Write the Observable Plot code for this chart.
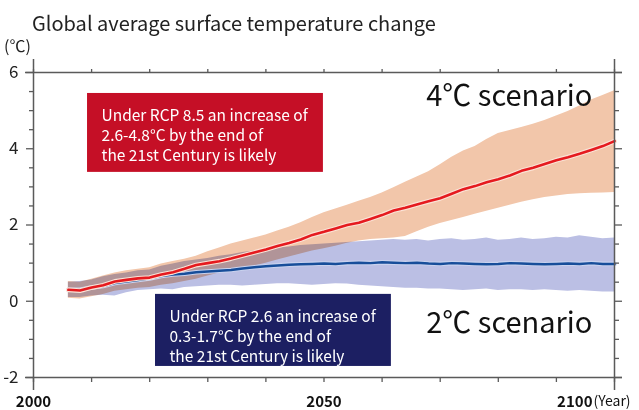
<!DOCTYPE html>
<html>
<head>
<meta charset="utf-8">
<script src="https://cdn.jsdelivr.net/npm/d3@7"></script>
<script src="https://cdn.jsdelivr.net/npm/@observablehq/plot@0.6"></script>
<style>
  body { margin: 0; background: #fff; font-family: "Noto Sans CJK JP", "Open Sans", sans-serif; }
  #title { height: 36px; padding-left: 32px; font-size: 20px; line-height: 46px; color: #222; white-space: nowrap; }
  #chart svg { display: block; overflow: visible; }
</style>
</head>
<body>
<div id="title">Global average surface temperature change</div>
<div id="chart"></div>
<script>
// Projection years (two-year steps)
const years = [2006, 2008, 2010, 2012, 2014, 2016, 2018, 2020, 2022, 2024, 2026, 2028,
  2030, 2032, 2034, 2036, 2038, 2040, 2042, 2044, 2046, 2048, 2050, 2052,
  2054, 2056, 2058, 2060, 2062, 2064, 2066, 2068, 2070, 2072, 2074, 2076,
  2078, 2080, 2082, 2084, 2086, 2088, 2090, 2092, 2094, 2096, 2098, 2100];

// RCP 8.5 (4℃ scenario): multi-model mean and likely range, ℃
const rcp85Mean = [0.30, 0.28, 0.36, 0.42, 0.52, 0.56, 0.60, 0.62, 0.70, 0.76, 0.85, 0.95,
  1.00, 1.05, 1.12, 1.20, 1.28, 1.36, 1.45, 1.53, 1.62, 1.74, 1.82, 1.91,
  2.00, 2.06, 2.16, 2.26, 2.38, 2.45, 2.54, 2.62, 2.70, 2.82, 2.94, 3.02,
  3.12, 3.20, 3.30, 3.42, 3.50, 3.60, 3.70, 3.78, 3.87, 3.97, 4.07, 4.20];
const rcp85High = [0.52, 0.50, 0.58, 0.66, 0.74, 0.80, 0.84, 0.88, 0.98, 1.04, 1.10, 1.18,
  1.30, 1.40, 1.50, 1.58, 1.66, 1.74, 1.84, 1.94, 2.06, 2.20, 2.32, 2.42,
  2.52, 2.62, 2.72, 2.84, 2.98, 3.12, 3.26, 3.40, 3.58, 3.78, 3.94, 4.06,
  4.24, 4.40, 4.48, 4.56, 4.64, 4.74, 4.86, 4.98, 5.12, 5.28, 5.40, 5.52];
const rcp85Low = [0.08, 0.06, 0.12, 0.18, 0.26, 0.30, 0.34, 0.36, 0.42, 0.46, 0.52, 0.58,
  0.66, 0.74, 0.80, 0.86, 0.92, 1.00, 1.08, 1.16, 1.24, 1.32, 1.38, 1.44,
  1.52, 1.58, 1.62, 1.64, 1.66, 1.70, 1.82, 1.94, 2.04, 2.12, 2.20, 2.28,
  2.36, 2.44, 2.52, 2.60, 2.66, 2.72, 2.76, 2.80, 2.82, 2.83, 2.84, 2.85];

// RCP 2.6 (2℃ scenario): multi-model mean and likely range, ℃
const rcp26Mean = [0.30, 0.30, 0.36, 0.40, 0.48, 0.52, 0.56, 0.60, 0.66, 0.70, 0.72, 0.76,
  0.78, 0.80, 0.82, 0.86, 0.89, 0.92, 0.94, 0.96, 0.97, 0.98, 0.99, 0.98,
  1.00, 1.01, 1.00, 1.02, 1.01, 1.00, 1.01, 0.99, 0.98, 1.00, 0.99, 0.98,
  0.97, 0.98, 1.00, 0.99, 0.98, 0.97, 0.98, 0.99, 0.98, 1.00, 0.98, 0.98];
const rcp26High = [0.50, 0.52, 0.56, 0.64, 0.70, 0.74, 0.80, 0.82, 0.92, 0.98, 1.04, 1.08,
  1.12, 1.18, 1.22, 1.28, 1.32, 1.36, 1.40, 1.42, 1.46, 1.48, 1.50, 1.52,
  1.54, 1.56, 1.58, 1.60, 1.62, 1.60, 1.62, 1.58, 1.62, 1.64, 1.60, 1.62,
  1.66, 1.60, 1.62, 1.66, 1.62, 1.64, 1.68, 1.66, 1.72, 1.68, 1.64, 1.66];
const rcp26Low = [0.10, 0.10, 0.14, 0.16, 0.14, 0.22, 0.28, 0.30, 0.32, 0.30, 0.36, 0.38,
  0.40, 0.42, 0.42, 0.40, 0.42, 0.44, 0.46, 0.46, 0.44, 0.42, 0.44, 0.46,
  0.45, 0.42, 0.40, 0.38, 0.36, 0.34, 0.34, 0.32, 0.32, 0.30, 0.28, 0.30,
  0.32, 0.28, 0.30, 0.30, 0.28, 0.30, 0.28, 0.26, 0.28, 0.26, 0.24, 0.24];

// Axis labels
const yLabels = [-2, 0, 2, 4, 6];
const xTicks = [2000, 2010, 2020, 2030, 2040, 2050, 2060, 2070, 2080, 2090, 2100];
const xLabels = [2000, 2050];

// Annotation boxes (box extents in year / ℃)
const notes = [
  {x1: 2009.3, x2: 2049.9, y1: 3.38, y2: 5.45, fill: "#c50f26",
   text: "Under RCP 8.5 an increase of\n2.6-4.8°C by the end of\nthe 21st Century is likely"},
  {x1: 2021.0, x2: 2061.6, y1: -1.71, y2: 0.18, fill: "#1c1f62",
   text: "Under RCP 2.6 an increase of\n0.3-1.7°C by the end of\nthe 21st Century is likely"}
];
const scenarios = [
  {label: "4℃ scenario", x: 2067.6, y: 5.36},
  {label: "2℃ scenario", x: 2067.6, y: -0.6}
];

const rcp85 = years.map((year, i) => ({year, mean: rcp85Mean[i], lo: rcp85Low[i], hi: rcp85High[i]}));
const rcp26 = years.map((year, i) => ({year, mean: rcp26Mean[i], lo: rcp26Low[i], hi: rcp26High[i]}));

const axisColor = "#5a5a5a";
const minorY = d3.range(-2, 6.01, 0.5).filter(d => d % 2 !== 0);

const chart = Plot.plot({
  width: 639,
  height: 374,
  marginLeft: 33,
  marginRight: 25,
  marginTop: 36,
  marginBottom: 33,
  x: {domain: [2000, 2100]},
  y: {domain: [-2, 6]},
  style: {fontFamily: "'Noto Sans CJK JP', 'Open Sans', sans-serif", fontSize: "16px", color: "#222", background: "#fff"},
  marks: [
    // likely ranges; where they overlap the two tints multiply into a dusky rose
    Plot.areaY(rcp26, {x: "year", y1: "lo", y2: "hi", fill: "#bbbfe4"}),
    Plot.areaY(rcp85, {x: "year", y1: "lo", y2: "hi", fill: "#f2c6aa", mixBlendMode: "multiply"}),
    // multi-model means
    Plot.lineY(rcp26, {x: "year", y: "mean", stroke: "#c9d2ee", strokeWidth: 4.6}),
    Plot.lineY(rcp26, {x: "year", y: "mean", stroke: "#174e9a", strokeWidth: 2.5}),
    Plot.lineY(rcp85, {x: "year", y: "mean", stroke: "#fbe3d6", strokeWidth: 4.8}),
    Plot.lineY(rcp85, {x: "year", y: "mean", stroke: "#e51a1f", strokeWidth: 2.6}),

    // frame lines, running slightly past the corners
    Plot.ruleX([2000, 2100], {stroke: axisColor, strokeWidth: 1.5, insetTop: -13, insetBottom: -13}),
    Plot.ruleY([-2, 6], {stroke: axisColor, strokeWidth: 1.5, insetLeft: -8, insetRight: -8}),

    // y ticks, left and right
    Plot.axisY(minorY, {anchor: "left", tickSize: 4, stroke: axisColor, strokeWidth: 1.3, tickFormat: () => ""}),
    Plot.axisY(yLabels, {anchor: "left", tickSize: 7, tickPadding: 8, stroke: axisColor, strokeWidth: 1.3,
      tickFormat: d => `${d}`, fill: "#222", fontSize: 17}),
    Plot.axisY(minorY, {anchor: "right", tickSize: 4, stroke: axisColor, strokeWidth: 1.3, tickFormat: () => ""}),
    Plot.axisY(yLabels, {anchor: "right", tickSize: 7, stroke: axisColor, strokeWidth: 1.3, tickFormat: () => ""}),

    // x ticks, top and bottom
    Plot.axisX(xTicks, {anchor: "top", tickSize: 4, stroke: axisColor, strokeWidth: 1.3, tickFormat: () => ""}),
    Plot.axisX(xTicks, {anchor: "bottom", tickSize: 5, tickPadding: 14, stroke: axisColor, strokeWidth: 1.3,
      tickFormat: d => xLabels.includes(d) ? `${d}` : "", fontWeight: "bold", fontSize: 15, fill: "#111"}),
    Plot.text([2100], {x: d => d, frameAnchor: "bottom", text: () => "2100", textAnchor: "end",
      lineAnchor: "top", dx: -22, dy: 19, fontWeight: "bold", fontSize: 15, fill: "#111"}),
    Plot.text([2100], {x: d => d, frameAnchor: "bottom", text: () => "(Year)", textAnchor: "start",
      lineAnchor: "top", dx: -21, dy: 19, fontSize: 14, fill: "#111"}),

    // unit label
    Plot.text(["(℃)"], {frameAnchor: "top-left", textAnchor: "middle", lineAnchor: "middle",
      dx: -16, dy: -26, fontSize: 16, fill: "#222"}),

    // annotations
    Plot.rect(notes, {x1: "x1", x2: "x2", y1: "y1", y2: "y2", fill: "fill"}),
    Plot.text(notes, {x: "x1", y: "y2", text: "text", textAnchor: "start", lineAnchor: "top",
      dx: 14, dy: 13, lineHeight: 1.3, fontSize: 15.5, fill: "white"}),
    Plot.text(scenarios, {x: "x", y: "y", text: "label", textAnchor: "start", lineAnchor: "middle",
      fontSize: 29, fill: "#111"})
  ]
});
document.getElementById("chart").append(chart);
</script>
</body>
</html>
